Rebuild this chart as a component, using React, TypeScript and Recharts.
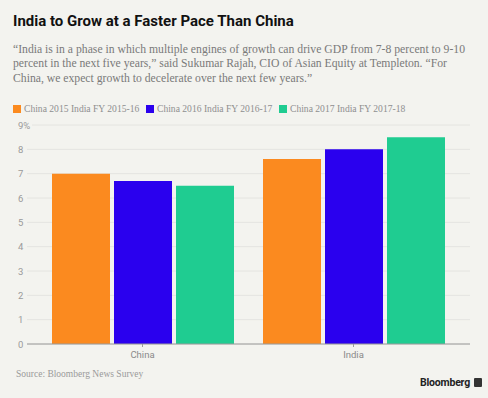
import React from 'react';
import { BarChart, Bar, XAxis, YAxis, CartesianGrid } from 'recharts';

const categories = ['China', 'India'];
const series1 = [7.0, 7.6];
const series2 = [6.7, 8.0];
const series3 = [6.5, 8.5];
const seriesNames = ['China 2015 India FY 2015-16', 'China 2016 India FY 2016-17', 'China 2017 India FY 2017-18'];
const colors = ['#fb8a1f', '#2a00ee', '#1fcc91'];
const yTicks = [0, 1, 2, 3, 4, 5, 6, 7, 8, 9];

const data = categories.map((c, i) => ({ name: c, s1: series1[i], s2: series2[i], s3: series3[i] }));

const BG = '#f3f3ef';

const YTick = (props: any) => {
  const { y, payload } = props;
  const label = payload.value === 9 ? '9%' : String(payload.value);
  return (
    <g>
      {payload.value === 9 ? <rect x={16} y={y - 5} width={16} height={10} fill={BG} /> : null}
      <text x={18} y={y} dy={3.5} fill="#9a9a9a" fontSize={9.5} fontFamily="Roboto, sans-serif" textAnchor="start">
        {label}
      </text>
    </g>
  );
};

const XTick = (props: any) => {
  const { x, y, payload } = props;
  return (
    <text x={x} y={y} dy={9} fill="#8a8a8a" fontSize={9.5} fontFamily="Roboto, sans-serif" textAnchor="middle">
      {payload.value}
    </text>
  );
};

export default function App() {
  return (
    <div style={{ position: 'absolute', left: 0, top: 0, width: 488, height: 398, background: BG, overflow: 'hidden' }}>
      <div style={{ position: 'absolute', left: 13, top: 12, fontFamily: 'Roboto, sans-serif', fontWeight: 700, fontSize: 15, color: '#111', whiteSpace: 'nowrap' }}>
        India to Grow at a Faster Pace Than China
      </div>
      <div style={{ position: 'absolute', left: 13, top: 43, fontFamily: '"Liberation Serif", serif', fontSize: 11.7, lineHeight: '14.3px', color: '#7a7a7a', whiteSpace: 'nowrap' }}>
        <div>“India is in a phase in which multiple engines of growth can drive GDP from 7-8 percent to 9-10</div>
        <div>percent in the next five years,” said Sukumar Rajah, CIO of Asian Equity at Templeton. “For</div>
        <div>China, we expect growth to decelerate over the next few years.”</div>
      </div>
      <div style={{ position: 'absolute', left: 0, top: 103, width: 488, height: 14 }}>
        {seriesNames.map((n, i) => (
          <div key={n} style={{ position: 'absolute', left: 13 + i * 133, top: 0, display: 'flex', alignItems: 'center', whiteSpace: 'nowrap' }}>
            <div style={{ width: 8, height: 8, background: colors[i], marginRight: 3 }} />
            <span style={{ fontFamily: '"Liberation Serif", serif', fontSize: 9.6, color: '#8f8f8f' }}>{n}</span>
          </div>
        ))}
      </div>
      <div style={{ position: 'absolute', left: 0, top: 0 }}>
        <BarChart width={488} height={398} data={data} margin={{ top: 125, right: 18, left: 0, bottom: 34 }} barCategoryGap={15} barGap={4}>
          <CartesianGrid vertical={false} stroke="#e4e4e0" strokeWidth={1} />
          <XAxis dataKey="name" height={20} axisLine={{ stroke: '#9a9a9a' }} tickLine={{ stroke: '#9a9a9a' }} tickSize={3} tick={<XTick />} padding={{ left: 10, right: 11 }} interval={0} />
          <YAxis width={27} domain={[0, 9]} ticks={yTicks} axisLine={false} tickLine={false} tick={<YTick />} interval={0} />
          <Bar dataKey="s1" name={seriesNames[0]} fill={colors[0]} isAnimationActive={false} />
          <Bar dataKey="s2" name={seriesNames[1]} fill={colors[1]} isAnimationActive={false} />
          <Bar dataKey="s3" name={seriesNames[2]} fill={colors[2]} isAnimationActive={false} />
        </BarChart>
      </div>
      <div style={{ position: 'absolute', left: 16, top: 369, fontFamily: '"Liberation Serif", serif', fontSize: 9.5, color: '#9a9a9a', whiteSpace: 'nowrap' }}>
        Source: Bloomberg News Survey
      </div>
      <div style={{ position: 'absolute', left: 420, top: 376, display: 'flex', alignItems: 'center', whiteSpace: 'nowrap' }}>
        <span style={{ fontFamily: 'Roboto, sans-serif', fontWeight: 700, fontSize: 10.5, color: '#222', letterSpacing: -0.2 }}>Bloomberg</span>
        <div style={{ width: 8, height: 9, background: '#333', marginLeft: 4, borderRadius: 1 }} />
      </div>
    </div>
  );
}
